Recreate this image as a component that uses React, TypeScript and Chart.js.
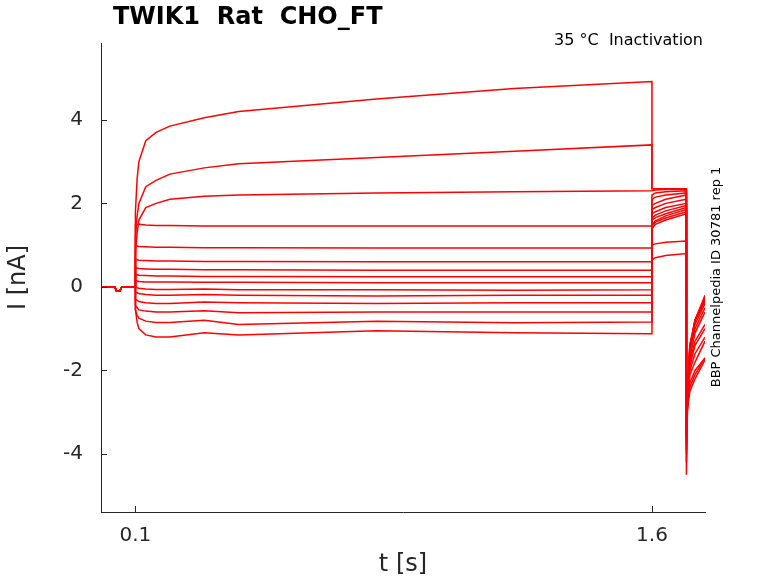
import { useEffect, useRef } from "react";
import { Chart, registerables } from "chart.js";
Chart.register(...registerables);

const times = [0, 0.04, 0.045, 0.055, 0.06, 0.0999, 0.1, 0.105, 0.11, 0.13, 0.16, 0.2, 0.3, 0.4, 0.8, 1.2, 1.5999, 1.6, 1.61, 1.64, 1.6999, 1.7, 1.703, 1.71, 1.725, 1.754];
const traces: number[][] = [
  [0, 0, -0.1, -0.1, 0, 0, 1.8, 2.6, 3.0, 3.5, 3.7, 3.85, 4.05, 4.2, 4.5, 4.75, 4.92, 2.35, 2.35, 2.35, 2.35, -4.5, -3.0, -1.6, -0.8, -0.2],
  [0, 0, -0.1, -0.1, 0, 0, 1.2, 1.7, 2.0, 2.4, 2.55, 2.7, 2.85, 2.95, 3.1, 3.25, 3.4, 2.35, 2.35, 2.35, 2.35, -4.2, -2.8, -1.5, -0.8, -0.25],
  [0, 0, -0.1, -0.1, 0, 0, 0.8, 1.3, 1.6, 1.9, 2.0, 2.1, 2.17, 2.2, 2.25, 2.28, 2.3, 2.3, 2.32, 2.33, 2.33, -4.0, -2.7, -1.5, -0.8, -0.3],
  [0, 0, -0.1, -0.1, 0, 0, 1.5, 1.5, 1.5, 1.48, 1.47, 1.47, 1.46, 1.46, 1.46, 1.46, 1.46, 2.2, 2.25, 2.28, 2.3, -3.9, -2.6, -1.4, -0.8, -0.3],
  [0, 0, -0.1, -0.1, 0, 0, 0.98, 0.98, 0.97, 0.96, 0.95, 0.95, 0.94, 0.94, 0.93, 0.93, 0.93, 2.1, 2.15, 2.2, 2.25, -3.8, -2.5, -1.4, -0.8, -0.35],
  [0, 0, -0.1, -0.1, 0, 0, 0.65, 0.65, 0.64, 0.63, 0.62, 0.62, 0.61, 0.61, 0.6, 0.6, 0.6, 1.95, 2.0, 2.1, 2.2, -3.7, -2.5, -1.4, -0.9, -0.4],
  [0, 0, -0.1, -0.1, 0, 0, 0.45, 0.45, 0.44, 0.43, 0.42, 0.42, 0.41, 0.41, 0.4, 0.4, 0.4, 1.85, 1.9, 2.0, 2.1, -3.6, -2.5, -1.5, -1.0, -0.5],
  [0, 0, -0.1, -0.1, 0, 0, 0.3, 0.29, 0.28, 0.27, 0.26, 0.26, 0.25, 0.25, 0.24, 0.24, 0.24, 1.75, 1.8, 1.9, 2.0, -3.6, -2.6, -1.7, -1.1, -0.6],
  [0, 0, -0.1, -0.1, 0, 0, 0.15, 0.14, 0.13, 0.12, 0.12, 0.12, 0.11, 0.11, 0.1, 0.1, 0.1, 1.65, 1.72, 1.82, 1.95, -3.6, -2.7, -1.8, -1.3, -0.9],
  [0, 0, -0.1, -0.1, 0, 0, 0.0, -0.02, -0.03, -0.05, -0.06, -0.06, -0.05, -0.07, -0.07, -0.08, -0.07, 1.6, 1.66, 1.75, 1.9, -3.5, -2.7, -1.9, -1.4, -1.0],
  [0, 0, -0.1, -0.1, 0, 0, -0.12, -0.14, -0.16, -0.18, -0.2, -0.2, -0.18, -0.2, -0.22, -0.2, -0.2, 1.5, 1.58, 1.7, 1.85, -3.5, -2.8, -2.0, -1.6, -1.2],
  [0, 0, -0.1, -0.1, 0, 0, -0.3, -0.32, -0.35, -0.38, -0.4, -0.4, -0.36, -0.38, -0.4, -0.38, -0.38, 1.45, 1.55, 1.65, 1.8, -3.4, -2.8, -2.1, -1.8, -1.3],
  [0, 0, -0.1, -0.1, 0, 0, -0.45, -0.5, -0.55, -0.58, -0.6, -0.6, -0.57, -0.62, -0.6, -0.6, -0.6, 1.4, 1.5, 1.6, 1.75, -3.4, -2.9, -2.3, -2.0, -1.7],
  [0, 0, -0.1, -0.1, 0, 0, -0.55, -0.68, -0.75, -0.82, -0.85, -0.85, -0.8, -0.9, -0.82, -0.86, -0.84, 1.0, 1.03, 1.07, 1.1, -3.3, -2.9, -2.4, -2.1, -1.7],
  [0, 0, -0.1, -0.1, 0, 0, -0.55, -0.85, -1.0, -1.15, -1.2, -1.2, -1.1, -1.15, -1.05, -1.1, -1.12, 0.65, 0.7, 0.75, 0.8, -3.3, -2.9, -2.5, -2.2, -1.75],
];
const xTicks = [0.1, 1.6];
const yTicks = [-4, -2, 0, 2, 4];

const L = 101, R = 705, T = 43, B = 512, W = 778, H = 583;
const INK = "#262626";

export default function App() {
  const ref = useRef<HTMLCanvasElement>(null);
  useEffect(() => {
    const overlay = {
      id: "overlay",
      afterDraw(c: any) {
        const ctx = c.ctx;
        const xs = c.scales.x, ys = c.scales.y;
        ctx.save();
        ctx.strokeStyle = INK;
        ctx.lineWidth = 1;
        ctx.beginPath();
        xTicks.forEach((t) => { const p = Math.round(xs.getPixelForValue(t)) + 0.5; ctx.moveTo(p, B); ctx.lineTo(p, B - 6); });
        yTicks.forEach((t) => { const p = Math.round(ys.getPixelForValue(t)) + 0.5; ctx.moveTo(L, p); ctx.lineTo(L + 6, p); });
        ctx.stroke();
        ctx.fillStyle = "#000";
        ctx.font = "bold 24px 'DejaVu Sans'";
        ctx.textBaseline = "middle";
        ctx.textAlign = "left";
        ctx.fillText("TWIK1  Rat  CHO_FT", 113, 18);
        ctx.font = "16px 'DejaVu Sans'";
        ctx.textAlign = "right";
        ctx.fillText("35 °C  Inactivation", 703, 41);
        ctx.translate(717, 277);
        ctx.rotate(-Math.PI / 2);
        ctx.textAlign = "center";
        ctx.font = "13px 'DejaVu Sans'";
        ctx.fillText("BBP Channelpedia ID 30781 rep 1", 0, 0);
        ctx.restore();
      },
    };
    const chart = new Chart(ref.current!, {
      type: "line",
      data: {
        datasets: traces.map((v) => ({
          data: v.map((y, i) => ({ x: times[i], y })),
          borderColor: "#ff0000",
          borderWidth: 1.5,
          pointRadius: 0,
          tension: 0,
        })),
      },
      options: {
        animation: false,
        responsive: false,
        layout: { padding: { top: T, right: W - R, left: 0, bottom: 0 } },
        plugins: { legend: { display: false }, tooltip: { enabled: false } },
        scales: {
          x: {
            type: "linear", min: 0, max: 1.754,
            afterBuildTicks: (s: any) => { s.ticks = xTicks.map((v) => ({ value: v })); },
            afterFit: (s: any) => { s.height = H - B; },
            grid: { display: false, drawTicks: false },
            border: { display: true, color: INK },
            ticks: { color: INK, font: { size: 20, family: "DejaVu Sans" }, padding: 12, callback: (v: any) => String(v), maxRotation: 0 },
            title: { display: true, text: "t [s]", color: INK, font: { size: 24, family: "DejaVu Sans" }, padding: { top: 2 } },
          },
          y: {
            min: -5.39, max: 5.84,
            afterBuildTicks: (s: any) => { s.ticks = yTicks.map((v) => ({ value: v })); },
            afterFit: (s: any) => { s.width = L; },
            grid: { display: false, drawTicks: false },
            border: { display: true, color: INK },
            ticks: { color: INK, font: { size: 20, family: "DejaVu Sans" }, padding: 18 },
            title: { display: true, text: "I [nA]", color: INK, font: { size: 24, family: "DejaVu Sans" }, padding: { bottom: 6 } },
          },
        },
      },
      plugins: [overlay],
    });
    return () => chart.destroy();
  }, []);
  return (
    <div style={{ position: "absolute", left: 0, top: 0, width: W, height: H, background: "#fff" }}>
      <canvas ref={ref} width={W} height={H} style={{ width: W, height: H }} />
    </div>
  );
}
